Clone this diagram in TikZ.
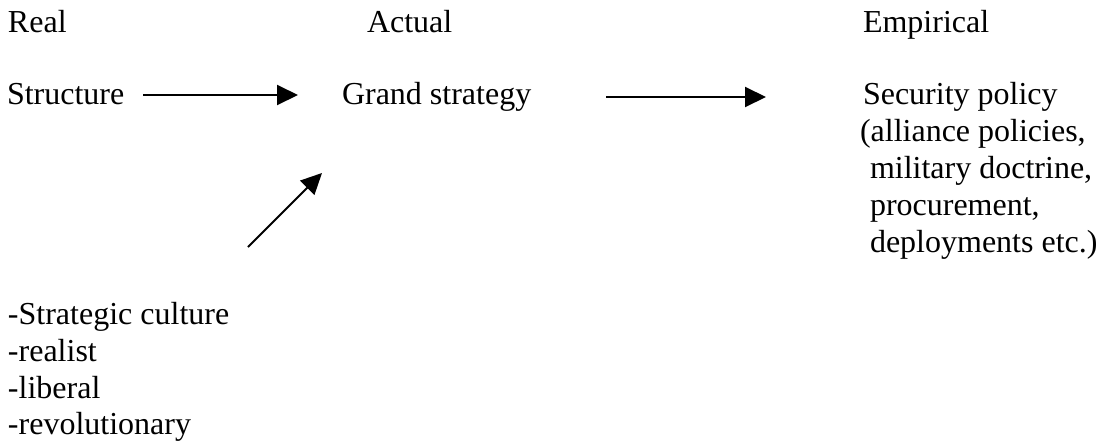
\documentclass[tikz,border=0pt]{standalone}
\usepackage{fontspec}
\setmainfont{Liberation Serif}
\usetikzlibrary{arrows.meta}
\begin{document}
\begin{tikzpicture}[x=1pt,y=-1pt,
  lbl/.style={anchor=base west,inner sep=0pt,outer sep=0pt,font=\fontsize{32}{37}\selectfont},
  conn/.style={line width=2pt,-{Triangle[length=21pt,width=20pt]}}]
\useasboundingbox (0,0) rectangle (1112,440);
% column headers
\node[lbl] (real) at (8,32) {Real};
\node[lbl] (actual) at (367,32) {Actual};
\node[lbl] (emp) at (863,32) {Empirical};
% main row
\node[lbl] (struct) at (7,104) {Structure};
\node[lbl] (grand) at (342,104) {Grand strategy};
\node[lbl] (sec1) at (863,104) {Security policy};
\node[lbl] (sec2) at (860,141) {(alliance policies,};
\node[lbl] (sec3) at (870,178) {military doctrine,};
\node[lbl] (sec4) at (870,215) {procurement,};
\node[lbl] (sec5) at (870,252) {deployments etc.)};
% list
\node[lbl] (cult1) at (8,324) {-Strategic culture};
\node[lbl] (cult2) at (8,361) {-realist};
\node[lbl] (cult3) at (8,398) {-liberal};
\node[lbl] (cult4) at (8,434) {-revolutionary};
% arrow anchors
\coordinate (a1s) at (143,95);
\coordinate (a1e) at (298,95);
\coordinate (a2s) at (606,97);
\coordinate (a2e) at (766,97);
\coordinate (a3s) at (248,247);
\coordinate (a3e) at (322,173);
\draw[conn] (a1s) -- (a1e);
\draw[conn] (a2s) -- (a2e);
\draw[conn] (a3s) -- (a3e);
\end{tikzpicture}
\end{document}
